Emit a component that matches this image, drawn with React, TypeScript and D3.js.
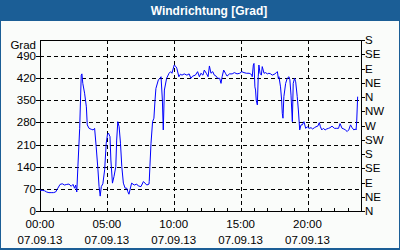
import React from "react";
import * as d3 from "d3";

const times: string[] = [
  "00:00","00:10","00:20","00:30","00:40","00:50","01:00","01:10","01:20","01:30","01:40","01:50",
  "02:00","02:10","02:20","02:28","02:35","02:40","02:45","02:50","02:58","03:05","03:08","03:12",
  "03:20","03:28","03:32","03:40","03:50","03:58","04:05","04:12","04:20","04:25","04:30","04:35",
  "04:42","04:50","04:57","05:03","05:07","05:14","05:18","05:25","05:32","05:40","05:44","05:49",
  "05:55","06:01","06:07","06:14","06:22","06:29","06:34","06:39","06:51","07:03","07:14","07:21",
  "07:33","07:44","07:59","08:09","08:10","08:13","08:18","08:25","08:31","08:36","08:40","08:51",
  "08:58","09:03","09:09","09:13","09:18","09:28","09:39","09:46","09:52","10:02","10:10","10:14",
  "10:23","10:30","10:37","10:47","10:59","11:09","11:17","11:25","11:37","11:47","11:55","12:02",
  "12:11","12:17","12:26","12:34","12:40","12:47","12:55","13:02","13:10","13:17","13:26","13:32",
  "13:37","13:44","13:52","13:59","14:10","14:22","14:32","14:44","14:56","15:05","15:15","15:26",
  "15:38","15:45","15:50","15:52","15:57","16:00","16:04","16:07","16:10","16:15","16:19","16:22",
  "16:27","16:33","16:37","16:45","16:52","17:00","17:07","17:15","17:22","17:34","17:40","17:45",
  "17:49","17:52","17:59","18:04","18:07","18:10","18:14","18:22","18:29","18:37","18:41","18:46",
  "18:52","18:56","19:02","19:07","19:14","19:19","19:25","19:31","19:37","19:44","19:52","19:59",
  "20:07","20:16","20:23","20:31","20:38","20:46","20:53","20:58","21:04","21:11","21:19","21:26",
  "21:34","21:41","21:50","22:01","22:11","22:19","22:26","22:35","22:43","22:50","22:58","23:05",
  "23:13","23:20","23:28","23:35","23:38","23:41","23:45"
];

const values: number[] = [
  66,65,64,60,58,58,58,60,72,84,86,82,
  84,85,78,84,72,82,60,140,261,429,433,403,
  372,329,272,261,258,256,261,203,130,77,47,77,
  86,130,214,243,246,235,161,88,109,140,224,282,
  266,214,140,88,72,72,61,53,88,82,85,79,
  77,93,82,85,93,140,214,282,293,350,387,414,
  419,424,350,256,382,419,435,440,435,461,456,450,
  424,432,429,433,429,433,419,426,429,440,424,435,
  429,445,435,424,458,435,440,429,426,419,419,403,
  424,445,435,426,433,433,437,433,435,440,437,435,
  435,433,429,424,461,466,392,382,350,335,424,461,
  435,429,456,435,437,433,435,433,429,433,437,440,
  419,424,392,350,308,293,361,403,419,424,414,366,
  282,403,419,408,361,319,256,272,272,282,261,266,
  261,263,259,263,266,268,279,266,256,261,256,259,
  261,263,268,261,261,261,276,261,259,256,251,256,
  272,263,256,259,256,287,361,396
];

const leftTicks: number[] = [0, 70, 140, 210, 280, 350, 420, 490];
const rightTicks: number[] = [0, 45, 90, 135, 180, 225, 270, 315, 360, 405, 450, 495, 540];
const rightLabels: string[] = ["N","NE","E","SE","S","SW","W","NW","N","NE","E","SE","S"];
const xLabelHours: number[] = [0, 5, 10, 15, 20];
const xLabels: string[] = ["00:00", "05:00", "10:00", "15:00", "20:00"];
const dateLabel = "07.09.13";
const title = "Windrichtung [Grad]";
const unitLabel = "Grad";

const W = 400, H = 250;
const PL = 40, PR = 361, PT = 40, PB = 211;
const BLUE = "#1B5E96";
const FONT = "'Liberation Sans', Arial, sans-serif";
const FS = 11.5;

function toHours(t: string): number {
  const [h, m] = t.split(":").map(Number);
  return h + m / 60;
}

export default function App() {
  const x = d3.scaleLinear().domain([0, 24]).range([PL, PR]);
  const y = d3.scaleLinear().domain([0, 540]).range([PB, PT]);
  const data = times.map((t, i) => ({ h: toHours(t), v: values[i] }));
  const line = d3.line<{ h: number; v: number }>().x(d => x(d.h)).y(d => y(d.v));
  const hours = d3.range(0, 25);

  return (
    <svg width={W} height={H} style={{ position: "absolute", left: 0, top: 0, display: "block" }}>
      <rect x={0} y={0} width={W} height={H} fill="#FAFCFA" />
      <rect x={0} y={0} width={W} height={21} fill={BLUE} />
      <rect x={0.5} y={0.5} width={W - 1} height={H - 1} fill="none" stroke={BLUE} />
      <line x1={0} x2={W} y1={248.5} y2={248.5} stroke={BLUE} />
      <text x={209} y={15} textAnchor="middle" fill="#fff" fontFamily={FONT} fontWeight="bold" fontSize={12}>{title}</text>

      {leftTicks.filter(v => v > 0).map(v => (
        <line key={"gy" + v} x1={PL} x2={PR} y1={Math.round(y(v)) + 0.5} y2={Math.round(y(v)) + 0.5}
          stroke="#000" strokeDasharray="4,3" />
      ))}
      {xLabelHours.filter(h => h > 0).map(h => (
        <line key={"gx" + h} x1={Math.round(x(h)) + 0.5} x2={Math.round(x(h)) + 0.5} y1={PT} y2={PB}
          stroke="#000" strokeDasharray="4,3" />
      ))}

      <rect x={PL + 0.5} y={PT + 0.5} width={PR - PL} height={PB - PT} fill="none" stroke="#000" />

      {hours.map(h => (
        <line key={"bt" + h} x1={Math.round(x(h)) + 0.5} x2={Math.round(x(h)) + 0.5} y1={PB + 0.5} y2={PB - 3}
          stroke="#000" />
      ))}
      {leftTicks.map(v => (
        <g key={"lt" + v}>
          <line x1={PL - 4} x2={PL} y1={Math.round(y(v)) + 0.5} y2={Math.round(y(v)) + 0.5} stroke="#000" />
          <text x={PL - 4} y={y(v)} dy="0.35em" textAnchor="end" fontFamily={FONT} fontSize={FS} fill="#000">{v}</text>
        </g>
      ))}
      <text x={PL - 4} y={49} textAnchor="end" fontFamily={FONT} fontSize={FS} fill="#000">{unitLabel}</text>
      {rightTicks.map((v, i) => (
        <g key={"rt" + v}>
          <line x1={PR} x2={PR + 4} y1={Math.round(y(v)) + 0.5} y2={Math.round(y(v)) + 0.5} stroke="#000" />
          <text x={PR + 4} y={y(v)} dy="0.35em" textAnchor="start" fontFamily={FONT} fontSize={FS} fill="#000">{rightLabels[i]}</text>
        </g>
      ))}
      {xLabelHours.map((h, i) => (
        <g key={"xl" + h}>
          <text x={x(h)} y={228} textAnchor="middle" fontFamily={FONT} fontSize={FS} fill="#000">{xLabels[i]}</text>
          <text x={x(h)} y={244} textAnchor="middle" fontFamily={FONT} fontSize={FS} fill="#000">{dateLabel}</text>
        </g>
      ))}

      <path d={line(data) || ""} fill="none" stroke="#0000FF" strokeWidth={1} />
    </svg>
  );
}
